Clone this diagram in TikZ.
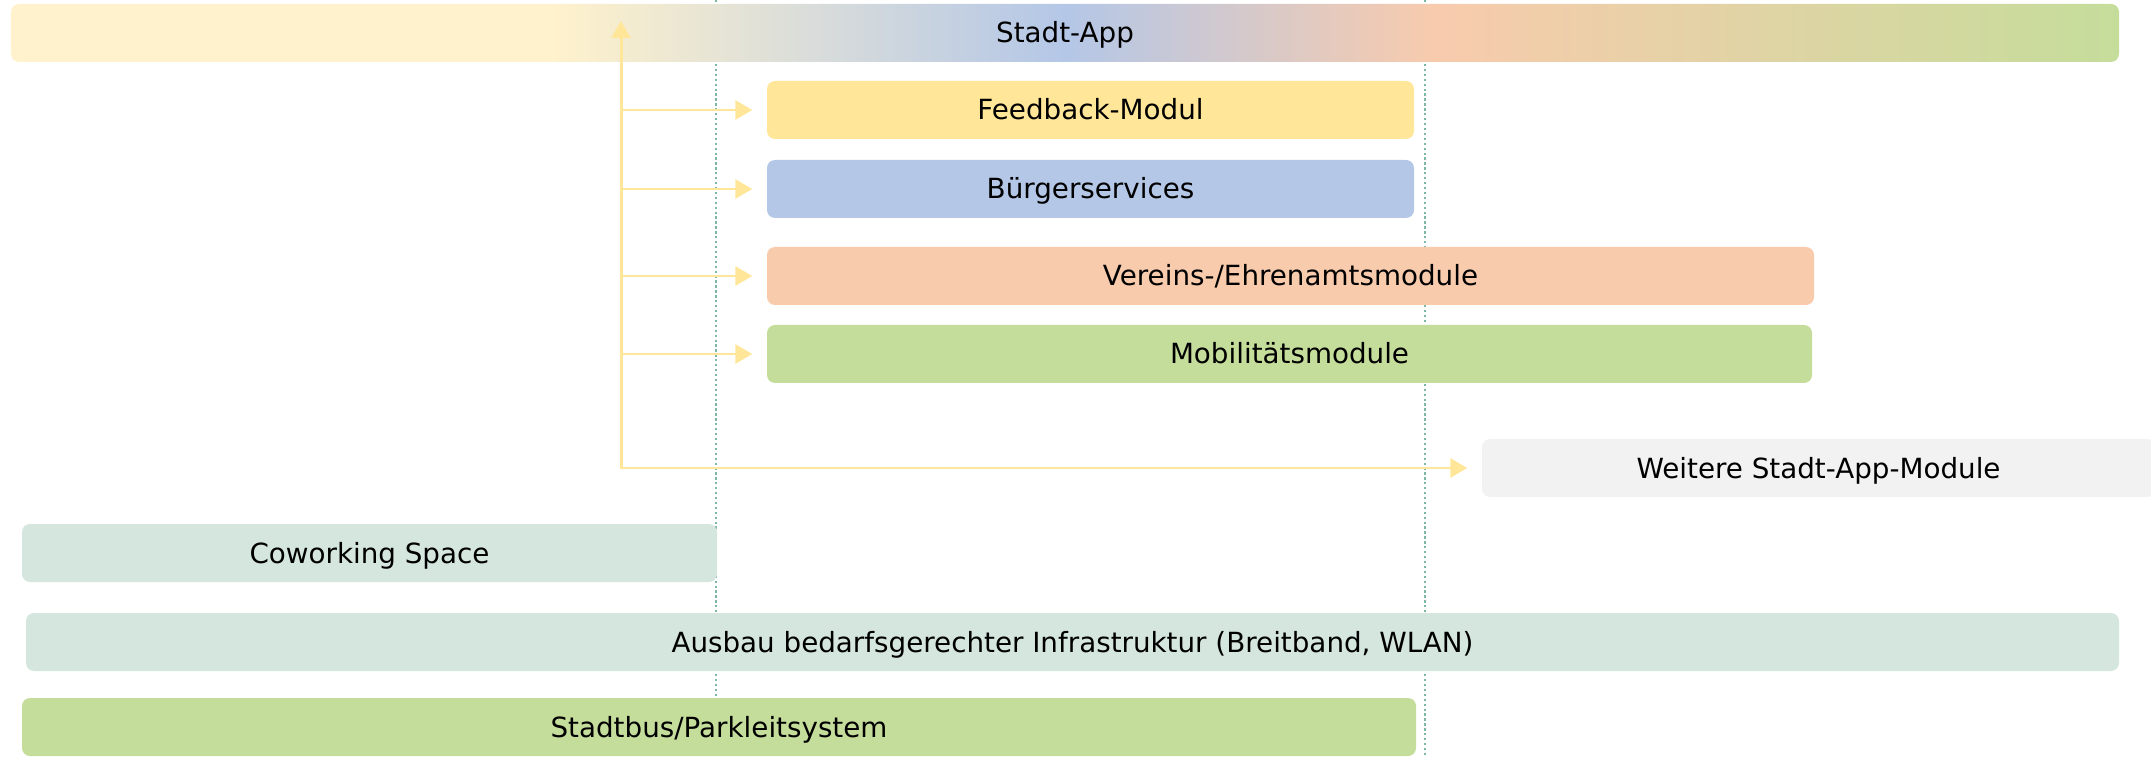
\documentclass[tikz,border=0pt]{standalone}
\usepackage{fontspec}
\setmainfont{DejaVu Sans}
\usetikzlibrary{arrows.meta}

\definecolor{appyellow}{HTML}{FFF2CC}
\definecolor{appblue}{HTML}{B4C7E7}
\definecolor{apppeach}{HTML}{F8CBAD}
\definecolor{appgreen}{HTML}{C5DD9B}
\definecolor{feedyellow}{HTML}{FFE699}
\definecolor{restgrey}{HTML}{F2F2F2}
\definecolor{infragreen}{HTML}{D5E6DF}
\definecolor{guidegreen}{HTML}{7DB8A4}

\pgfdeclarehorizontalshading{stadtapp}{100bp}{color(0bp)=(appyellow); color(37.8bp)=(appyellow);
  color(50bp)=(appblue); color(58.8bp)=(apppeach); color(75bp)=(appgreen); color(100bp)=(appgreen)}

\begin{document}
\begin{tikzpicture}[x=1cm,y=1cm,line cap=round,line join=round,
    box/.style={rounded corners=0.08cm,minimum height=0.58cm,inner sep=0pt,
      text height=0.2cm,text depth=0cm,font=\fontsize{7.9}{9.5}\selectfont},
    feed/.style={draw=feedyellow,line width=0.85pt,
      -{Triangle[length=0.17cm,width=0.19cm]},shorten >=0.14cm},
    guide/.style={draw=guidegreen,line width=0.65pt,line cap=butt,
      dash pattern=on 0.65pt off 0.75pt}]
        \useasboundingbox (0,0) rectangle (21.51,7.56);

        % guide lines behind the boxes
        \coordinate (gA) at (7.16,7.56);
        \coordinate (gB) at (14.25,7.56);
        \draw[guide] (gA) -- (gA |- 0,0);
        \draw[guide] (gB) -- (gB |- 0,0);

        \node[box,shading=stadtapp,minimum width=21.08cm] (app) at (10.65,7.23) {Stadt-App};

        \node[box,fill=feedyellow,minimum width=6.47cm] (fb) at (10.905,6.46) {Feedback-Modul};
        \node[box,fill=appblue,minimum width=6.47cm] (bs) at (10.905,5.67) {Bürgerservices};
        \node[box,fill=apppeach,minimum width=10.47cm] (ver) at (12.905,4.80) {Vereins-/Ehrenamtsmodule};
        \node[box,fill=appgreen,minimum width=10.45cm] (mob) at (12.895,4.02) {Mobilitätsmodule};
        \node[box,fill=restgrey,minimum width=6.73cm] (wei) at (18.185,2.88) {Weitere Stadt-App-Module};

        \node[box,fill=infragreen,minimum width=6.95cm] (cw) at (3.695,2.03) {Coworking Space};
        \node[box,fill=infragreen,minimum width=20.93cm] (aus) at (10.725,1.14)
            {Ausbau bedarfsgerechter Infrastruktur (Breitband, WLAN)};
        \node[box,fill=appgreen,minimum width=13.94cm] (sb) at (7.19,0.29) {Stadtbus/Parkleitsystem};

        % module arrows
        \coordinate (top) at (6.21,7.35);
        \coordinate (trunk) at (top |- wei.west);
        \draw[feed,shorten >=0pt] (trunk) -- (top);
        \foreach \m in {fb,bs,ver,mob,wei}
            \draw[feed] (top |- \m.west) -- (\m.west);
    \end{tikzpicture}
\end{document}
